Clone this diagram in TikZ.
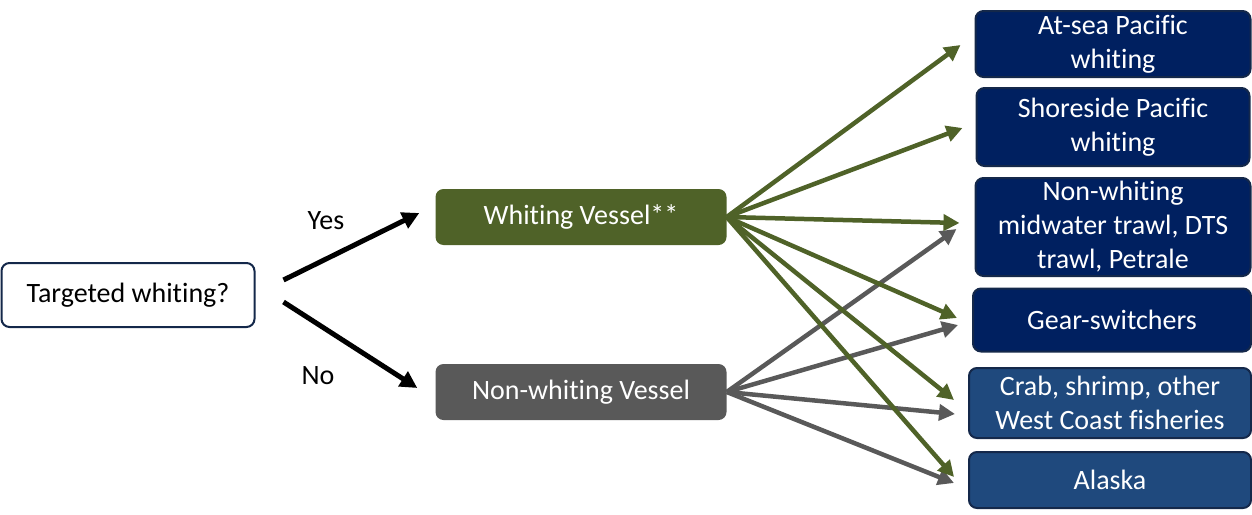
\documentclass[tikz,border=0pt]{standalone}
\usepackage{fontspec}
\setmainfont[Ligatures=NoCommon]{Carlito}
\usetikzlibrary{arrows.meta}
\definecolor{navy}{HTML}{002060}
\definecolor{steel}{HTML}{1F497D}
\definecolor{rim}{HTML}{14284A}
\definecolor{olive}{HTML}{4F6228}
\definecolor{slate}{HTML}{595959}
\begin{document}
\begin{tikzpicture}[x=1pt,y=-1pt,
        box/.style={rectangle, rounded corners=8pt, inner sep=0pt, align=center,
            font=\fontsize{28}{34}\selectfont},
        fish/.style={box, draw=rim, line width=2pt, fill=#1, text=white},
        garrow/.style={-{Triangle[length=16pt,width=16pt]}, color=olive, line width=4.5pt},
        sarrow/.style={-{Triangle[length=16pt,width=16pt]}, color=slate, line width=4.5pt},
        karrow/.style={-{Triangle[length=17pt,width=17pt]}, color=black, line width=5pt}]
    \useasboundingbox (0,0) rectangle (1252,514);
    % question and the two kinds of vessel
    \node[box, draw=rim, line width=2pt, fill=white, minimum width=253pt, minimum height=64pt] (tw) at (128,295) {Targeted whiting?};
    \node[box, fill=olive, text=white, minimum width=291pt, minimum height=56pt] (wv) at (581,217) {Whiting Vessel**};
    \node[box, fill=slate, text=white, minimum width=291pt, minimum height=56pt] (nwv) at (581,392) {Non-whiting Vessel};
    % fisheries
    \node[fish=navy, minimum width=275pt, minimum height=66pt] (atsea) at (1113,44) {At-sea Pacific\\whiting};
    \node[fish=navy, minimum width=273pt, minimum height=78pt] (shore) at (1113,127) {Shoreside Pacific\\whiting};
    \node[fish=navy, minimum width=275pt, minimum height=98pt] (midw) at (1113,227) {Non-whiting\\midwater trawl, DTS\\trawl, Petrale};
    \node[fish=navy, minimum width=278pt, minimum height=63pt] (gear) at (1112,320) {Gear-switchers};
    \node[fish=steel, minimum width=282pt, minimum height=70pt] (crab) at (1110,403) {Crab, shrimp, other\\West Coast fisheries};
    \node[fish=steel, minimum width=282pt, minimum height=56pt] (alaska) at (1110,480) {Alaska};
    % yes / no
    \draw[karrow] ([xshift=28pt,yshift=15pt]tw.east) -- ([xshift=-16pt,yshift=4pt]wv.west);
    \draw[karrow] ([xshift=28pt,yshift=-7pt]tw.east) -- ([xshift=-18pt,yshift=4pt]nwv.west);
    \node[box] (yes) at (326,221) {Yes};
    \node[box] (no) at (318,376) {No};
    % non-whiting vessels
    \draw[sarrow] (nwv.east) -- ([xshift=-18pt,yshift=-2pt]midw.west);
    \draw[sarrow] (nwv.east) -- ([xshift=-14pt,yshift=-5pt]gear.west);
    \draw[sarrow] (nwv.east) -- ([xshift=-13pt,yshift=-11pt]crab.west);
    \draw[sarrow] (nwv.east) -- ([xshift=-14pt,yshift=-3pt]alaska.west);
    % whiting vessels
    \draw[garrow] (wv.east) -- ([xshift=-14pt,yshift=-1pt]atsea.west);
    \draw[garrow] (wv.east) -- ([xshift=-13pt,yshift=-1pt]shore.west);
    \draw[garrow] (wv.east) -- ([xshift=-15pt,yshift=4pt]midw.west);
    \draw[garrow] (wv.east) -- ([xshift=-15pt,yshift=2pt]gear.west);
    \draw[garrow] (wv.east) -- ([xshift=-14pt,yshift=3pt]crab.west);
    \draw[garrow] (wv.east) -- ([xshift=-14pt,yshift=3pt]alaska.west);
\end{tikzpicture}
\end{document}
